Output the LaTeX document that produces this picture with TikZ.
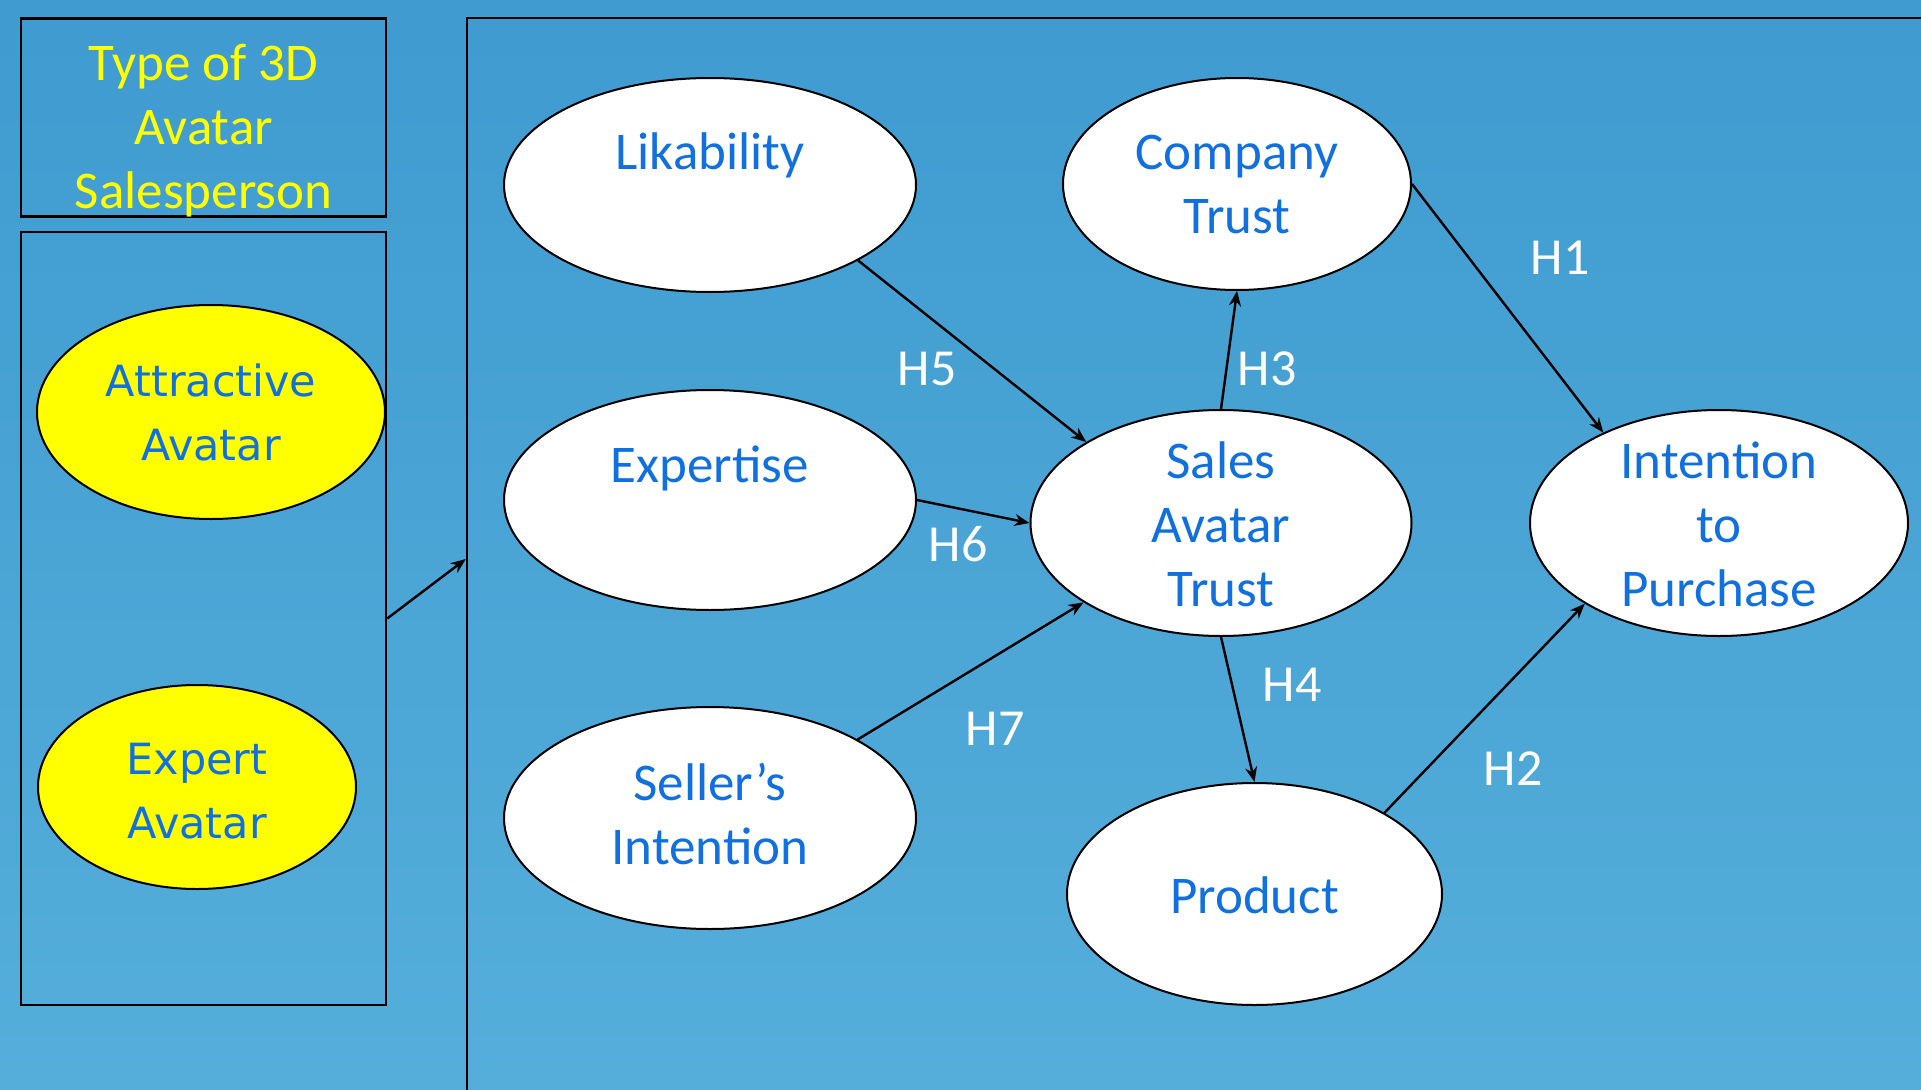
\documentclass[tikz,border=0pt]{standalone}
\usepackage{fontspec}
\setmainfont{Carlito}
\newfontfamily\dejavu{DejaVu Sans}
\usetikzlibrary{shapes.geometric,arrows.meta}
\definecolor{bgtop}{RGB}{63,155,208}
\definecolor{bgbot}{RGB}{85,174,218}
\definecolor{txtblue}{RGB}{17,112,224}
\definecolor{ylw}{RGB}{255,255,0}
\tikzset{
  oval/.style={ellipse, draw=black, line width=2pt, fill=white, inner sep=0pt},
  yoval/.style={ellipse, draw=black, line width=2pt, fill=ylw, inner sep=0pt},
  frame/.style={draw=black, line width=2.5pt, inner sep=0pt},
  txt/.style={text=txtblue, font=\fontsize{53}{64}\selectfont, align=center, inner sep=0pt},
  dtxt/.style={text=txtblue, font={\dejavu\fontsize{43}{64}\selectfont}, align=center, inner sep=0pt},
  ytxt/.style={text=ylw, font=\fontsize{53}{64}\selectfont, align=center, inner sep=0pt},
  hyp/.style={text=white, font=\fontsize{52}{64}\selectfont, inner sep=0pt},
  arr/.style={draw=black, line width=2.4pt, -{Stealth[length=15pt,width=12pt]}}
}
\begin{document}
\begin{tikzpicture}[x=1pt,y=-1pt]
\useasboundingbox (0,0) rectangle (1921,1089);
\clip (0,0) rectangle (1921,1089);
\shade[top color=bgtop, bottom color=bgbot] (0,0) rectangle (1921,1089);

% frames
\node[frame, minimum width=365pt, minimum height=198pt,
      label={[ytxt, yshift=-13pt]center:{Type of 3D\\Avatar\\Salesperson}}] (b1) at (203.5,117.5) {};
\node[frame, minimum width=365pt, minimum height=773pt] (b2) at (203.5,618.5) {};
\node[frame, minimum width=1493pt, minimum height=1082pt] (big) at (1213.5,559) {};

% left ellipses
\node[yoval, minimum width=348pt, minimum height=214pt,
      label={[dtxt]center:{Attractive\\Avatar}}] (att) at (211,412) {};
\node[yoval, minimum width=318pt, minimum height=204pt,
      label={[dtxt, yshift=-4pt]center:{Expert\\Avatar}}] (expav) at (197,787) {};

% right ellipses
\node[oval, minimum width=412pt, minimum height=214pt,
      label={[txt, yshift=2pt]center:{Likability\\~}}] (lik) at (710,185) {};
\node[oval, minimum width=412pt, minimum height=220pt,
      label={[txt, yshift=4pt]center:{Expertise\\~}}] (exp) at (710,500) {};
\node[oval, minimum width=412pt, minimum height=222pt,
      label={[txt, yshift=4pt]center:{Seller’s\\Intention}}] (sel) at (710,818) {};
\node[oval, minimum width=348pt, minimum height=212pt,
      label={[txt]center:{Company\\Trust}}] (comp) at (1237,184) {};
\node[oval, minimum width=381pt, minimum height=226pt,
      label={[txt, yshift=-1pt]center:{Sales\\Avatar\\Trust}}] (sat) at (1221,523) {};
\node[oval, minimum width=375pt, minimum height=222pt,
      label={[txt, yshift=-1pt]center:{Product}}] (prod) at (1254.5,894) {};
\node[oval, minimum width=378pt, minimum height=226pt,
      label={[txt, yshift=-1pt]center:{Intention\\to\\Purchase}}] (int) at (1719,523) {};

% hypothesis labels
\node[hyp] (h1) at (1560,258) {H1};
\node[hyp] (h2) at (1513,769) {H2};
\node[hyp] (h3) at (1267,369) {H3};
\node[hyp] (h4) at (1292,685) {H4};
\node[hyp] (h5) at (927,369) {H5};
\node[hyp] (h6) at (958,544) {H6};
\node[hyp] (h7) at (995,729) {H7};

% connectors
\draw[arr] (b2.east) -- (big.west);
\draw[arr] (lik.-27.2) -- (sat.149.2);
\draw[arr] (exp.east) -- (sat.west);
\draw[arr] (sel.28.4) -- (sat.210.8);
\draw[arr] (sat.north) -- (comp.south);
\draw[arr] (sat.south) -- (prod.north);
\draw[arr] (comp.east) -- (int.142.8);
\draw[arr] (prod.32.6) -- (int.211.5);
\end{tikzpicture}
\end{document}
